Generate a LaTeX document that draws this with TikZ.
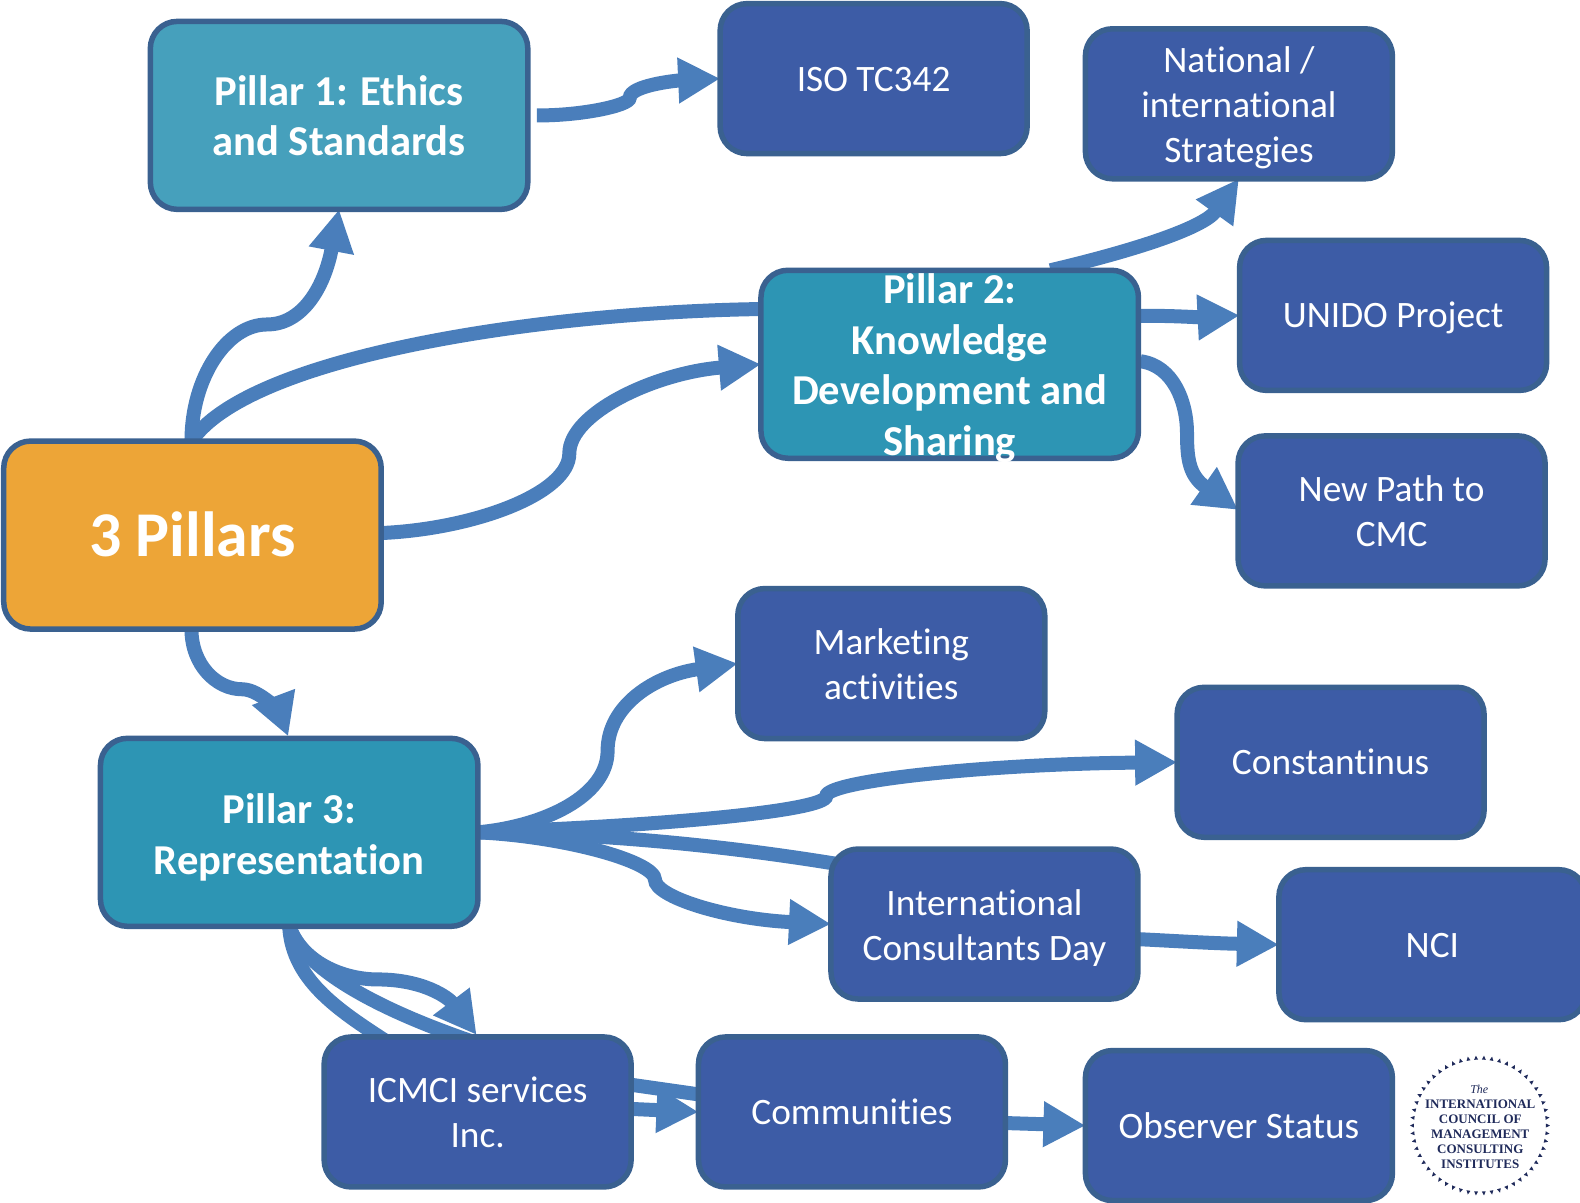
\documentclass[tikz,border=0pt]{standalone}
\usepackage{fontspec}
\setmainfont[Ligatures=CommonOff]{Carlito}
\newfontfamily\logofont{Liberation Serif}
\usetikzlibrary{arrows.meta,calc}
\definecolor{conncol}{HTML}{4A7EBB}
\definecolor{bordercol}{HTML}{3A6190}
\definecolor{bluefill}{HTML}{3D5CA6}
\definecolor{tealfill}{HTML}{2D95B4}
\definecolor{teallight}{HTML}{46A0BC}
\definecolor{orangefill}{HTML}{EDA537}
\definecolor{navy}{HTML}{1F2A5A}
\pgfdeclarelayer{bg}
\pgfsetlayers{bg,main}
\newcommand{\upS}{\rule{0pt}{37pt}}
\newcommand{\upP}{\rule{0pt}{40.5pt}}
\tikzset{
  x=1.0077pt,y=-1.0077pt,
  struts/.style n args={2}{execute at begin node={\rule{0pt}{#1pt}},execute at end node={\rule[-#2pt]{0pt}{#2pt}}},
  basebox/.style={draw=bordercol,line width=5.5pt,rounded corners=27pt,outer sep=0pt,inner sep=0pt,text=white,align=center},
  smallbox/.style={basebox,fill=bluefill,minimum width=307pt,minimum height=150pt,font=\fontsize{37.3}{45}\selectfont,struts={35}{10}},
  pillar/.style={basebox,fill=tealfill,minimum width=377.5pt,minimum height=188pt,font=\bfseries\fontsize{42.6}{50.7}\selectfont,struts={40}{10}},
  bigtext/.style={font=\bfseries\fontsize{63.8}{72}\selectfont,struts={57}{15}},
  ptext/.style={text=white,align=center,inner sep=0pt,font=\bfseries\fontsize{42.6}{50.7}\selectfont,struts={40}{10}},
  conn/.style={draw=conncol,line width=14pt,-{Triangle[length=42pt,width=43pt]}},
  plain/.style={draw=conncol,line width=14pt},
}
\begin{document}
\begin{tikzpicture}
\useasboundingbox (0,0) rectangle (1568,1193);
\clip (0,0) rectangle (1568,1193);
% nodes
\node[pillar,fill=orangefill,bigtext] (tp) at (191,531) {3 Pillars};
\node[pillar,fill=teallight] (p1) at (336.5,114.5) {\upP Pillar 1: Ethics\\and Standards};
\node[pillar] (p2) at (942.5,361.5) {};
\node[ptext] (p2text) at (942.5,361.5) {\upP Pillar 2:\\Knowledge\\Development and\\Sharing};
\node[pillar] (p3) at (287,826) {\rule{0pt}{44pt}Pillar 3:\\Representation};
\node[smallbox] (iso) at (867,78) {ISO TC342};
\node[smallbox] (nat) at (1229.5,103) {\upS National /\\international\\Strategies};
\node[smallbox] (uni) at (1382.5,313) {UNIDO Project};
\node[smallbox] (np) at (1381,507) {\upS New Path to\\CMC};
\node[smallbox] (mkt) at (884.5,658.5) {\upS Marketing\\activities};
\node[smallbox] (con) at (1320.5,756.5) {Constantinus};
\node[smallbox] (icd) at (977,917) {\upS International\\Consultants Day};
\node[smallbox] (nci) at (1421.5,937.5) {NCI};
\node[smallbox] (icm) at (474,1103.5) {\upS ICMCI services\\Inc.};
\node[smallbox] (com) at (845.5,1103.5) {Communities};
\node[smallbox] (obs) at (1229.5,1117) {Observer Status};
% connectors
\begin{pgfonlayer}{bg}
\draw[conn] ($(tp.north)+(-1,0)$) .. controls (190,375) and (225,322) .. (265,322) .. controls (300,322) and (322,285) .. (p1.south);
\draw[plain] ($(tp.north)+(-1,0)$) .. controls (250,350) and (560,306) .. ($(p2.west)+(30,-55)$);
\draw[conn] ($(tp.east)+(0,-2)$) .. controls (470,525) and (565,490) .. (565,450) .. controls (565,410) and (650,370) .. (p2.west);
\draw[conn] ($(tp.south)+(-1,0)$) .. controls (190,660) and (215,684) .. (240,684) .. controls (260,684) and (279,712) .. ($(p3.north)+(-1,-2)$);
\draw[conn] ($(p1.east)+(9,0)$) .. controls (575,115) and (625,105) .. (625,97) .. controls (625,85) and (670,80) .. (iso.west);
\draw[conn] ($(p2.north)+(100,0)$) .. controls (1120,250) and (1194,227) .. (nat.south);
\draw[conn] ($(p2.east)+(0,-48)$) .. controls (1160,313) and (1190,315) .. (uni.west);
\draw[conn] ($(p2.east)+(2,-3)$) .. controls (1165,363) and (1178,400) .. (1178,430) .. controls (1178,455) and (1180,472) .. ($(np.west)+(0,-1)$);
\draw[conn] (p3.east) .. controls (540,820) and (603,790) .. (603,745) .. controls (603,700) and (650,670) .. (mkt.west);
\draw[conn] (p3.east) .. controls (650,820) and (820,805) .. (820,790) .. controls (820,775) and (980,758) .. (con.west);
\draw[plain] (p3.east) .. controls (600,827) and (730,840) .. ($(icd.north west)+(25,18)$);
\draw[conn] (p3.east) .. controls (560,830) and (650,855) .. (650,873) .. controls (650,890) and (720,912) .. (icd.west);
\draw[conn] (p3.south) .. controls (300,955) and (340,972) .. (375,972) .. controls (420,972) and (445,990) .. ($(icm.north)+(-1,-2)$);
\draw[plain] (p3.south) .. controls (300,960) and (370,1000) .. ($(icm.north)+(-4,5)$);
\draw[plain] (p3.south) .. controls (290,975) and (340,1005) .. ($(icm.north)+(-85,8)$);
\draw[plain] ($(icm.east)+(0,-27)$) -- ($(com.west)+(10,-16)$);
\draw[conn] ($(icm.east)+(0,-3)$) -- (com.west);
\draw[conn] ($(com.east)+(0,11)$) -- (obs.west);
\draw[conn] ($(icd.east)+(0,15)$) .. controls (1170,934) and (1200,936) .. (nci.west);
\end{pgfonlayer}
% logo
\node[text=navy,align=center,inner sep=0pt,font=\logofont\bfseries\fontsize{13}{15.1}\selectfont] (logo) at (1469,1125.5)
  {INTERNATIONAL\\COUNCIL OF\\MANAGEMENT\\CONSULTING\\INSTITUTES};
\node[text=navy,inner sep=0pt,font=\logofont\itshape\fontsize{12}{12}\selectfont] (logothe) at (1468,1081) {The};
\foreach \a in {0,6.667,...,355}{
  \fill[navy,shift={(1468.7,1117)}] (\a:69.5) -- (\a+1.7:65.5) -- (\a-1.7:65.5) -- cycle;
}
\end{tikzpicture}
\end{document}
